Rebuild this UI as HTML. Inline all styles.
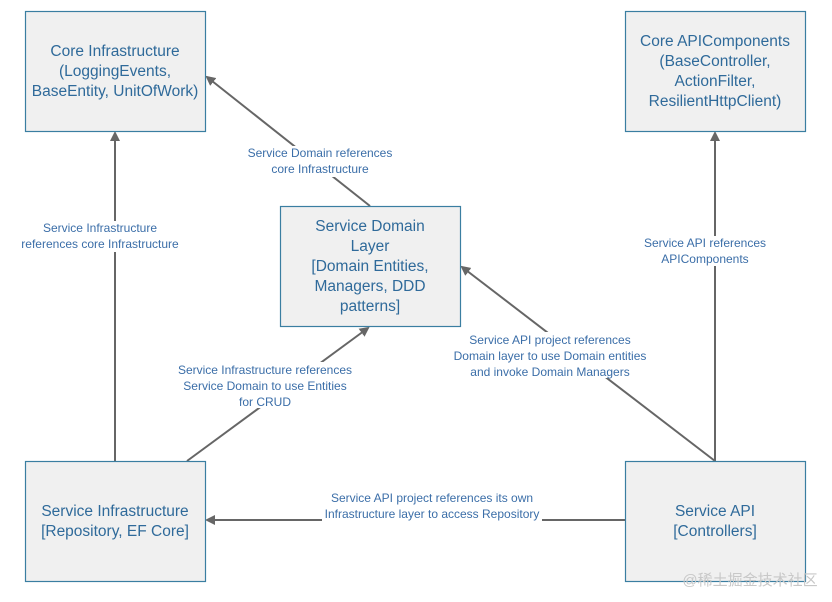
<!DOCTYPE html>
<html><head><style>
body{margin:0;background:#fff;}
svg text{font-family:"Liberation Sans",sans-serif;}
</style></head><body>
<svg width="832" height="597" viewBox="0 0 832 597" xmlns="http://www.w3.org/2000/svg">
<defs>
<marker id="a" markerWidth="10" markerHeight="10" refX="8" refY="5" orient="auto" markerUnits="userSpaceOnUse">
<path d="M0,0 L10,5 L0,10 z" fill="#666"/>
</marker>
</defs>
<g stroke="#666" stroke-width="2" fill="none">
<line x1="115" y1="461" x2="115" y2="133" marker-end="url(#a)"/>
<line x1="370" y1="206" x2="207" y2="77" marker-end="url(#a)"/>
<line x1="715" y1="461" x2="715" y2="133" marker-end="url(#a)"/>
<line x1="715" y1="461" x2="462" y2="267" marker-end="url(#a)"/>
<line x1="187" y1="461" x2="368" y2="328" marker-end="url(#a)"/>
<line x1="625" y1="520" x2="207" y2="520" marker-end="url(#a)"/>
</g>
<g fill="#fff">
<rect x="20" y="221" width="190" height="31"/>
<rect x="240" y="146" width="160" height="31"/>
<rect x="640" y="236" width="130" height="30"/>
<rect x="445" y="332" width="210" height="46"/>
<rect x="170" y="362" width="190" height="46"/>
<rect x="322" y="490" width="220" height="32"/>
</g>
<g fill="#f0f0f0" stroke="#3a7ea1" stroke-width="1.2">
<rect x="25.5" y="11.5" width="180" height="120"/>
<rect x="625.5" y="11.5" width="180" height="120"/>
<rect x="280.5" y="206.5" width="180" height="120"/>
<rect x="25.5" y="461.5" width="180" height="120"/>
<rect x="625.5" y="461.5" width="180" height="120"/>
</g>
<g fill="#2f6a9a" font-size="15.5" text-anchor="middle">
<text x="115" y="56">Core Infrastructure</text>
<text x="115" y="76">(LoggingEvents,</text>
<text x="115" y="96">BaseEntity, UnitOfWork)</text>
<text x="715" y="46">Core APIComponents</text>
<text x="715" y="66">(BaseController,</text>
<text x="715" y="86">ActionFilter,</text>
<text x="715" y="106">ResilientHttpClient)</text>
<text x="370" y="231">Service Domain</text>
<text x="370" y="251">Layer</text>
<text x="370" y="271">[Domain Entities,</text>
<text x="370" y="291">Managers, DDD</text>
<text x="370" y="311">patterns]</text>
<text x="115" y="516">Service Infrastructure</text>
<text x="115" y="536">[Repository, EF Core]</text>
<text x="715" y="516">Service API</text>
<text x="715" y="536">[Controllers]</text>
</g>
<g fill="#3b6ea8" font-size="12" text-anchor="middle">
<text x="100" y="232">Service Infrastructure</text>
<text x="100" y="248">references core Infrastructure</text>
<text x="320" y="157">Service Domain references</text>
<text x="320" y="173">core Infrastructure</text>
<text x="705" y="247">Service API references</text>
<text x="705" y="263">APIComponents</text>
<text x="550" y="344">Service API project references</text>
<text x="550" y="360">Domain layer  to use Domain entities</text>
<text x="550" y="376">and invoke Domain Managers</text>
<text x="265" y="374">Service Infrastructure references</text>
<text x="265" y="390">Service Domain to use Entities</text>
<text x="265" y="406">for CRUD</text>
<text x="432" y="502">Service API project references its own</text>
<text x="432" y="518">Infrastructure layer to access Repository</text>
</g>
<text x="750" y="585" font-size="15" fill="#c8c8c8" text-anchor="middle" style="font-family:'Liberation Sans','Noto Sans CJK SC',sans-serif">@稀土掘金技术社区</text>
</svg>
</body></html>
